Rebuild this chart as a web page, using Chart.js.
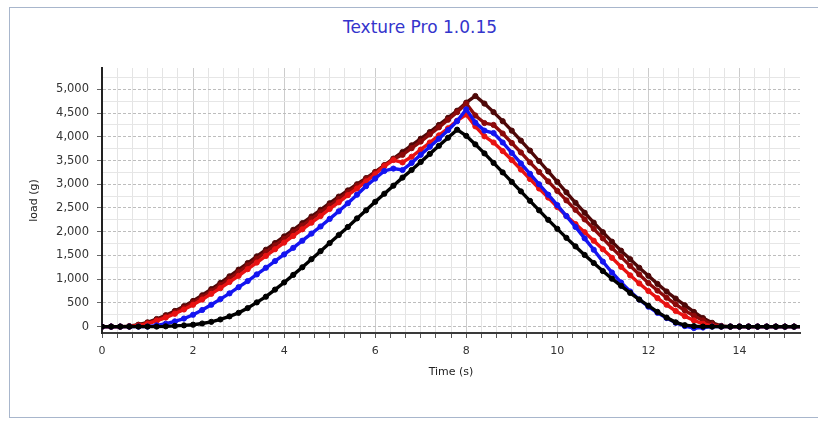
<!DOCTYPE html>
<html>
<head>
<meta charset="utf-8">
<script src="https://cdn.jsdelivr.net/npm/chart.js@4.4.1/dist/chart.umd.min.js"></script>
<style>
  html, body { margin: 0; padding: 0; background: #ffffff; overflow: hidden; width: 818px; height: 421px; }
  #frame { position: absolute; left: 9px; top: 7px; width: 860px; height: 411px; border: 1.5px solid #a8b6cc; box-sizing: border-box; }
  #wrap { position: absolute; left: 0; top: 0; width: 818px; height: 421px; }
  #title { position: absolute; left: 220px; width: 400px; top: 16px; text-align: center;
           font-family: 'DejaVu Sans', sans-serif; font-size: 17px; line-height: 22px; color: #3434cc; }
</style>
</head>
<body>
<div id="frame"></div>
<div id="title">Texture Pro 1.0.15</div>
<div id="wrap"><canvas id="c" width="818" height="421"></canvas></div>
<script>
// Time samples (s)
const timeS = [
  0.0,0.2,0.4,0.6,0.8,1.0,1.2,1.4,1.6,1.8,
  2.0,2.2,2.4,2.6,2.8,3.0,3.2,3.4,3.6,3.8,
  4.0,4.2,4.4,4.6,4.8,5.0,5.2,5.4,5.6,5.8,
  6.0,6.2,6.4,6.6,6.8,7.0,7.2,7.4,7.6,7.8,
  8.0,8.2,8.4,8.6,8.8,9.0,9.2,9.4,9.6,9.8,
  10.0,10.2,10.4,10.6,10.8,11.0,11.2,11.4,11.6,11.8,
  12.0,12.2,12.4,12.6,12.8,13.0,13.2,13.4,13.6,13.8,
  14.0,14.2,14.4,14.6,14.8,15.0,15.2,15.4
];
// Load (g) per run
const loadBlack = [
  0,0,0,0,0,0,0,5,15,25,
  40,65,100,150,215,290,390,510,630,780,
  930,1090,1250,1420,1590,1760,1930,2100,2280,2450,
  2630,2800,2970,3140,3300,3470,3640,3810,3980,4150,
  4020,3840,3650,3450,3250,3050,2850,2650,2450,2250,
  2060,1870,1690,1510,1340,1170,1010,860,710,570,
  440,310,190,90,30,10,0,0,0,0,
  0,0,0,0,0,0,0,0
];
const loadBlue = [
  0,0,0,0,0,0,25,60,110,170,
  250,350,460,580,700,830,960,1100,1240,1380,
  1520,1660,1810,1960,2110,2270,2430,2600,2780,2960,
  3120,3280,3330,3300,3450,3620,3790,3960,4140,4330,
  4580,4300,4130,4080,3880,3660,3440,3220,3000,2780,
  2560,2330,2100,1860,1620,1370,1140,930,740,570,
  420,290,180,80,10,-30,-20,0,0,0,
  0,0,0,0,0,0,0,0
];
const loadRed = [
  0,0,0,0,20,60,120,190,270,360,
  460,570,690,810,940,1070,1210,1350,1490,1630,
  1770,1910,2050,2190,2330,2480,2620,2770,2910,3060,
  3210,3380,3510,3460,3580,3730,3880,4030,4180,4340,
  4470,4220,4010,3880,3700,3510,3310,3110,2910,2720,
  2520,2330,2160,1990,1810,1630,1450,1260,1080,910,
  750,600,460,330,220,130,60,15,0,0,
  0,0,0,0,0,0,0,0
];
const loadDarkRed = [
  0,0,0,5,30,75,140,215,300,400,
  505,620,745,875,1010,1150,1290,1430,1570,1710,
  1850,1990,2130,2270,2410,2550,2690,2830,2970,3110,
  3250,3400,3530,3620,3760,3900,4050,4200,4360,4520,
  4700,4450,4290,4250,4070,3870,3670,3460,3260,3060,
  2860,2660,2460,2260,2060,1860,1660,1470,1280,1100,
  920,760,610,470,340,230,130,50,5,0,
  0,0,0,0,0,0,0,0
];
const loadMaroon = [
  0,0,0,10,40,90,160,240,330,430,
  540,660,790,920,1060,1200,1340,1480,1620,1760,
  1900,2040,2180,2320,2460,2600,2740,2870,3000,3130,
  3260,3400,3540,3680,3820,3960,4100,4250,4400,4550,
  4720,4860,4700,4520,4330,4130,3920,3710,3490,3270,
  3050,2830,2610,2400,2190,1990,1790,1600,1420,1240,
  1070,900,740,590,450,310,180,80,15,0,
  0,0,0,0,0,0,0,0
];
const xLabelEvery = 2;
const yLabelEvery = 500;

function pts(arr) { return timeS.map((t, i) => ({ x: t, y: arr[i] })); }
function isMult(v, m) { return Math.abs(v / m - Math.round(v / m)) < 1e-6; }

const seriesDefs = [
  { name: 'Run 1', data: loadBlack, color: '#000000' },
  { name: 'Run 2', data: loadBlue, color: '#1414f0' },
  { name: 'Run 3', data: loadRed, color: '#e81212' },
  { name: 'Run 4', data: loadDarkRed, color: '#8c0a0a' },
  { name: 'Run 5', data: loadMaroon, color: '#4e0808' }
];

const datasets = seriesDefs.map(s => ({
  label: s.name,
  data: pts(s.data),
  borderColor: s.color,
  backgroundColor: s.color,
  pointBackgroundColor: s.color,
  pointBorderColor: s.color,
  borderWidth: 3.4,
  pointRadius: 2.6,
  pointBorderWidth: 1,
  tension: 0,
  fill: false
}));

new Chart(document.getElementById('c'), {
  type: 'line',
  data: { datasets },
  options: {
    responsive: false,
    animation: false,
    devicePixelRatio: 1,
    layout: { padding: { left: 0, right: 18, top: 68, bottom: 0 } },
    plugins: {
      legend: { display: false },
      tooltip: { enabled: false },
      title: { display: false }
    },
    scales: {
      x: {
        type: 'linear',
        min: 0,
        max: 15.33,
        afterFit: (s) => { s.height = 88; },
        border: { display: true, color: '#3a3a3a', width: 2 },
        grid: {
          color: (c) => (c.tick && isMult(c.tick.value, xLabelEvery)) ? '#cccccc' : '#e4e4e4',
          lineWidth: 1,
          tickLength: 5,
          tickColor: '#555555',
          tickWidth: 1
        },
        ticks: {
          stepSize: 1 / 3,
          includeBounds: false,
          autoSkip: false,
          maxRotation: 0,
          padding: 7,
          color: '#333333',
          font: { family: 'DejaVu Sans', size: 11 },
          callback: (v) => isMult(v, xLabelEvery) ? String(Math.round(v)) : ''
        },
        title: {
          display: true,
          text: 'Time (s)',
          color: '#222222',
          font: { family: 'DejaVu Sans', size: 11 },
          padding: { top: 0, bottom: 42 }
        }
      },
      y: {
        type: 'linear',
        min: -135,
        max: 5450,
        afterFit: (s) => { s.width = 102; },
        border: {
          display: true, color: '#222222', width: 2,
          dash: (c) => (c.tick && isMult(c.tick.value, yLabelEvery)) ? [3, 2] : []
        },
        grid: {
          color: (c) => (c.tick && isMult(c.tick.value, yLabelEvery)) ? '#bdbdbd' : '#e6e6e6',
          lineWidth: 1,
          tickLength: 5,
          tickColor: (c) => (c.tick && isMult(c.tick.value, yLabelEvery)) ? '#666666' : 'rgba(0,0,0,0)',
          tickWidth: 1
        },
        ticks: {
          stepSize: 250,
          includeBounds: false,
          autoSkip: false,
          padding: 8,
          color: '#333333',
          font: { family: 'DejaVu Sans', size: 11.5 },
          callback: (v) => isMult(v, yLabelEvery) ? Math.round(v).toLocaleString('en-US') : ''
        },
        title: {
          display: true,
          text: 'load (g)',
          color: '#222222',
          font: { family: 'DejaVu Sans', size: 11 },
          padding: { top: 28, bottom: 0 }
        }
      }
    }
  }
});
</script>
</body>
</html>
